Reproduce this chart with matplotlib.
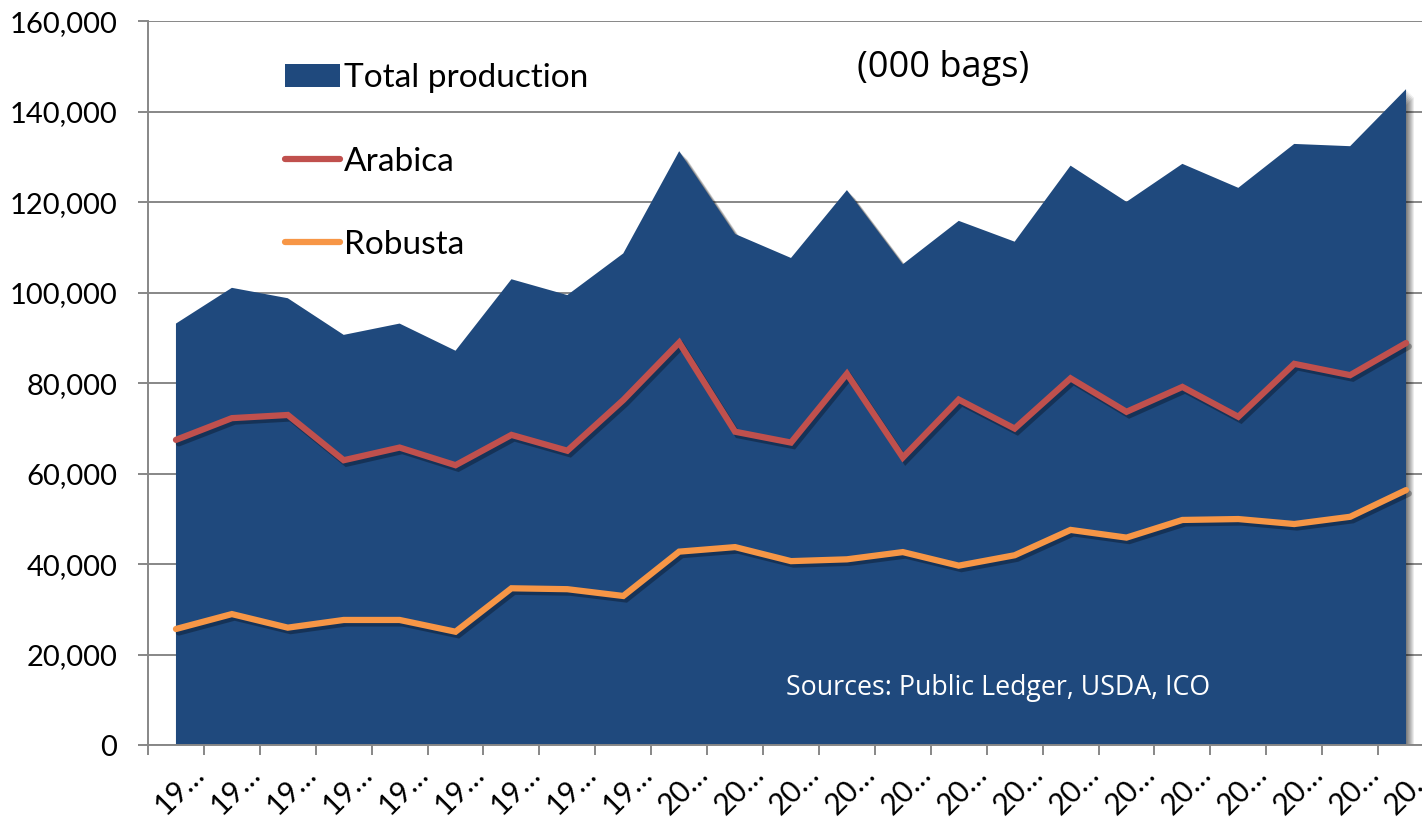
import matplotlib
matplotlib.use("Agg")
import matplotlib.pyplot as plt
import matplotlib.patheffects as pe
import matplotlib.transforms as mtransforms
from matplotlib.patches import Patch
from matplotlib.lines import Line2D
import numpy as np

# ---- data (000 bags) ----
tick_labels = ["19…"] * 9 + ["20…"] * 14
total_production = [93200, 101100, 98800, 90700, 93200, 87200, 103000, 99500, 108700,
                    131300, 113000, 107700, 122700, 106300, 115900, 111300, 128100,
                    120100, 128500, 123200, 132900, 132400, 145000]
arabica = [67500, 72300, 73000, 63000, 65800, 61900, 68600, 65100, 76300,
           89000, 69300, 66900, 82100, 63600, 76400, 70000, 81100,
           73700, 79200, 72600, 84300, 81800, 88900]
robusta = [25700, 29000, 26000, 27700, 27700, 25100, 34700, 34500, 33000,
           42800, 43800, 40700, 41100, 42700, 39700, 42000, 47600,
           45900, 49800, 50000, 48900, 50500, 56400]

series_names = ["Total production", "Arabica", "Robusta"]
FILL = "#1F497D"
RED = "#C0504D"
ORANGE = "#F79646"
GRID = "#878787"

plt.rcParams['font.family'] = ['Lato', 'DejaVu Sans']

W, H = 1422, 818
fig = plt.figure(figsize=(W / 100, H / 100), dpi=100)
left, right = 148 / W, 1434 / W
bottom, top = (H - 745.3) / H, (H - 21.3) / H
ax = fig.add_axes([left, bottom, right - left, top - bottom])

x = np.arange(len(total_production))

# area with soft shadow
shadow_fx = [pe.SimplePatchShadow(offset=(k * 0.8, -k * 0.8), shadow_rgbFace='black', alpha=0.09)
             for k in range(7, 0, -1)] + [pe.Normal()]
ax.fill_between(x, 0, total_production, color=FILL, lw=0, zorder=2,
                path_effects=shadow_fx)

line_fx = [pe.SimpleLineShadow(offset=(2, -2.5), shadow_color='black', alpha=0.3), pe.Normal()]
ax.plot(x, arabica, color=RED, lw=4.5, zorder=3, solid_joinstyle='miter',
        solid_capstyle='round', path_effects=line_fx)
ax.plot(x, robusta, color=ORANGE, lw=4.5, zorder=3, solid_joinstyle='miter',
        solid_capstyle='round', path_effects=line_fx)

ax.set_xlim(-0.5, len(x) - 0.5)
ax.set_ylim(0, 160000)
ax.set_yticks(np.arange(0, 160001, 20000))
ax.set_yticklabels([f"{v:,}" for v in range(0, 160001, 20000)])
ax.yaxis.grid(True, color=GRID, lw=1.4)
ax.set_axisbelow(True)

ax.set_xticks(x)
ax.set_xticklabels(tick_labels, rotation=45, ha='right', va='top', rotation_mode='anchor')
ax.set_xticks(np.arange(-0.5, len(x)), minor=True)
ax.tick_params(axis='x', which='major', length=0, pad=10, labelsize=21.5)
ax.tick_params(axis='x', which='minor', length=7, width=1.4, color=GRID, direction='out')
ax.tick_params(axis='y', length=7, width=1.4, color=GRID, pad=15, labelsize=21)
for lab in ax.get_xticklabels():
    lab.set_transform(lab.get_transform() + mtransforms.ScaledTranslation(14 / 100, 0, fig.dpi_scale_trans))

for s in ['top', 'right']:
    ax.spines[s].set_visible(False)
for s in ['left', 'bottom']:
    ax.spines[s].set_color(GRID)
    ax.spines[s].set_linewidth(1.4)

handles = [Patch(facecolor=FILL, edgecolor='none'),
           Line2D([], [], color=RED, lw=4.5, solid_capstyle='round'),
           Line2D([], [], color=ORANGE, lw=4.5, solid_capstyle='round')]
fig.legend(handles, series_names, loc='upper left', bbox_to_anchor=(272 / W, 1 - 50 / H),
           frameon=False, fontsize=24, handlelength=1.65, handleheight=0.68,
           handletextpad=0.1, labelspacing=1.6, borderaxespad=0)

fig.text(943 / W, 1 - 68 / H, "(000 bags)", ha='center', va='center', fontsize=26,
         family=['Open Sans', 'DejaVu Sans'])
fig.text(998 / W, 1 - 688 / H, "Sources: Public Ledger, USDA, ICO", ha='center', va='center',
         fontsize=19.3, color='white', family=['Open Sans', 'DejaVu Sans'])

fig.savefig("out.png", dpi=100)
